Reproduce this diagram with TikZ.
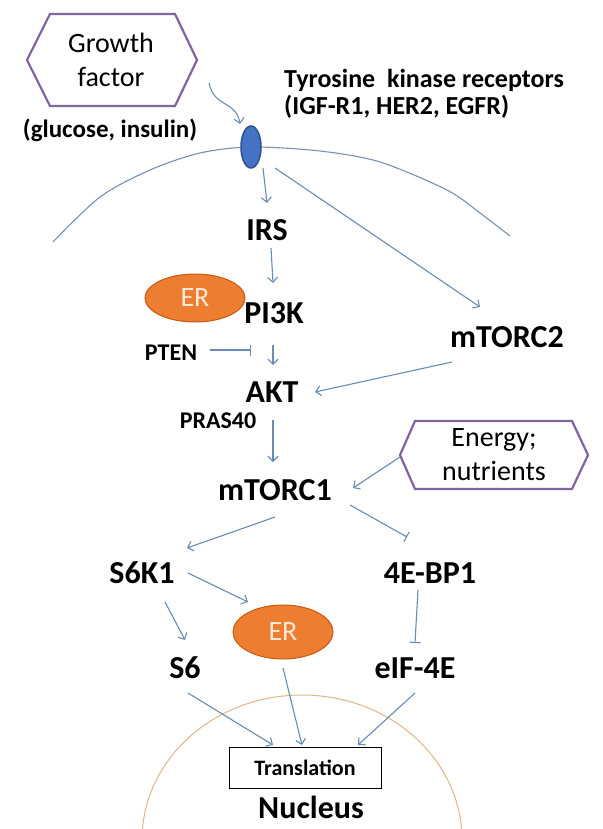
\documentclass[tikz,border=0pt]{standalone}
\usepackage{fontspec}
\setmainfont{Carlito}
\usetikzlibrary{arrows.meta,calc,shapes.geometric}
\definecolor{arrcol}{RGB}{104,140,180}
\definecolor{memcol}{RGB}{120,145,175}
\definecolor{hexcol}{RGB}{128,100,162}
\definecolor{recfill}{RGB}{68,114,196}
\definecolor{recdraw}{RGB}{47,82,143}
\definecolor{erfill}{RGB}{237,125,49}
\definecolor{erdraw}{RGB}{197,90,17}
\definecolor{ertext}{RGB}{253,233,217}
\definecolor{nuccol}{RGB}{222,184,135}
\begin{document}
\begin{tikzpicture}[x=1pt,y=-1pt,
  lab/.style={font=\bfseries\fontsize{32}{34}\selectfont, inner sep=1pt},
  small/.style={font=\bfseries\fontsize{24}{27}\selectfont, inner sep=1pt},
  hextext/.style={font=\fontsize{28}{34}\selectfont, align=center, inner sep=1pt},
  arr/.style={draw=arrcol, line width=1.1pt, -{Straight Barb[length=5pt,width=10pt]}},
  inh/.style={draw=arrcol, line width=1.1pt, -{Bar[width=11pt]}},
  hexline/.style={draw=hexcol, line width=2.2pt, line join=miter},
  erbox/.style={ellipse, fill=erfill, draw=erdraw, line width=1pt, text=ertext, font=\fontsize{28}{30}\selectfont, inner sep=0pt},
]
\useasboundingbox (0,0) rectangle (602,829);
\clip (0,0) rectangle (602,829);
\fill[white] (0,0) rectangle (602,829);

% membrane
\draw[memcol, line width=1.1pt] plot[smooth] coordinates {(53,242) (100,197) (150,170) (200,153) (251,147) (320,151) (380,162) (447,190) (480,213) (510,236)};
% nucleus
\draw[nuccol, line width=1pt] (302,840) ellipse [x radius=160, y radius=145];

% growth factor
\node[hextext] (gf) at (111,60) {Growth\\factor};
\draw[hexline] ($(gf)+(-84,0)$) -- ($(gf)+(-61,-46)$) -- ($(gf)+(64,-46)$) -- ($(gf)+(86,0)$) -- ($(gf)+(64,46)$) -- ($(gf)+(-61,46)$) -- cycle;
\node[small, font=\bfseries\fontsize{25}{27}\selectfont] (glu) at (110,130) {(glucose, insulin)};
\node[small, font=\bfseries\fontsize{26}{27}\selectfont, anchor=west, align=left] (tyr) at (283,94) {Tyrosine\ \ kinase receptors\\(IGF-R1, HER2, EGFR)};

\node[ellipse, fill=recfill, draw=recdraw, line width=1.5pt, minimum width=20pt, minimum height=42pt, inner sep=0pt] (rec) at (251,147) {};

\node[lab] (irs) at (267,230) {IRS};
\node[erbox, minimum width=100pt, minimum height=48pt] (er1) at (195,298) {ER};
\node[lab] (pi3k) at (274,313) {PI3K};
\node[small] (pten) at (171,353) {PTEN};
\node[lab] (akt) at (272,392) {AKT};
\node[lab] (mtorc2) at (507,337) {mTORC2};
\node[small] (pras) at (218,421) {PRAS40};
\node[lab] (mtorc1) at (275,490) {mTORC1};
\node[hextext] (en) at (494,455) {Energy;\\nutrients};
\draw[hexline] ($(en)+(-94,0)$) -- ($(en)+(-79,-34)$) -- ($(en)+(78,-34)$) -- ($(en)+(94,0)$) -- ($(en)+(78,34)$) -- ($(en)+(-79,34)$) -- cycle;
\node[lab] (s6k1) at (142,573) {S6K1};
\node[lab] (ebp) at (430,573) {4E-BP1};
\node[erbox, minimum width=100pt, minimum height=54pt] (er2) at (283,632) {ER};
\node[lab] (s6) at (185,668) {S6};
\node[lab] (eif) at (415,668) {eIF-4E};
\node[draw=black, line width=0.8pt, minimum width=152pt, minimum height=41pt, inner sep=0pt, font=\bfseries\fontsize{22}{24}\selectfont] (trans) at (305,768) {Translation};
\node[lab] (nuc) at (311,807) {Nucleus};

% connectors
\draw[arr] ($(gf)+(98,23)$) .. controls ($(gf)+(103,48)$) and ($(rec)+(-15,-47)$) .. ($(rec)+(-11,-23)$);
\draw[arr] ($(rec)+(12,21)$) -- ($(irs)+(0,-27)$);
\draw[arr] ($(rec)+(24,21)$) -- ($(mtorc2)+(-27,-30)$);
\draw[arr] ($(irs)+(4,18)$) -- ($(pi3k)+(-1,-30)$);
\draw[arr] ($(pi3k)+(-1,32)$) -- ($(akt)+(1,-27)$);
\draw[inh] ($(pten)+(39,-3)$) -- ($(pi3k)+(-23,37)$);
\draw[arr] ($(mtorc2)+(-55,25)$) -- ($(akt)+(43,0)$);
\draw[arr] ($(akt)+(1,28)$) -- ($(mtorc1)+(-2,-28)$);
\draw[arr] ($(en)+(-94,2)$) -- ($(mtorc1)+(78,-2)$);
\draw[arr] ($(mtorc1)+(0,27)$) -- ($(s6k1)+(45,-25)$);
\draw[inh] ($(mtorc1)+(75,15)$) -- ($(ebp)+(-23,-36)$);
\draw[arr] ($(s6k1)+(46,0)$) -- ($(er2)+(-35,-30)$);
\draw[arr] ($(s6k1)+(23,29)$) -- ($(s6)+(0,-28)$);
\draw[inh] ($(ebp)+(-12,17)$) -- ($(eif)+(0,-25)$);
\draw[arr] ($(s6)+(3,25)$) -- ($(trans)+(-32,-23)$);
\draw[arr] ($(er2)+(0,36)$) -- ($(trans)+(-3,-23)$);
\draw[arr] ($(eif)+(0,25)$) -- ($(trans)+(53,-23)$);
\end{tikzpicture}
\end{document}
